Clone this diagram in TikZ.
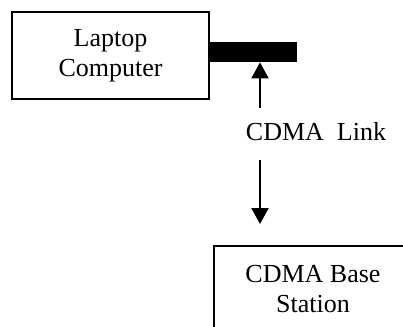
\documentclass[tikz,border=0pt]{standalone}
\usepackage{fontspec}
\setmainfont{Liberation Serif}
\usepackage{tikz}
\usetikzlibrary{arrows.meta}

\begin{document}
\begin{tikzpicture}[x=0.5pt, y=-0.5pt,
    box/.style={rectangle, draw, line width=1pt, minimum width=98.5pt,
                minimum height=43.5pt, align=center, font=\fontsize{13}{15}\selectfont},
    bar/.style={rectangle, fill=black, minimum width=43.5pt,
                minimum height=10pt, inner sep=0pt},
    linktext/.style={inner sep=0pt, font=\fontsize{13}{15}\selectfont},
    arrow/.style={-{Triangle[length=8pt,width=8.5pt]}, line width=1pt}
  ]

  \clip (0,0) rectangle (403,327);

  \node[box] (laptop) at (110.5,55.5) {Laptop\\Computer};
  \node[bar] (card) at (253.5,52) {};
  \node[box] (base) at (313,289.5) {CDMA Base\\Station};
  \node[linktext, anchor=base] (link) at (316,140) {CDMA\ \ Link};

  \coordinate (uptail) at (260,108);
  \coordinate (downtop) at (260,160);
  \coordinate (downtip) at (260,224);

  \draw[arrow] (uptail) -- (uptail |- card.south);
  \draw[arrow] (downtop) -- (downtip);

\end{tikzpicture}
\end{document}
